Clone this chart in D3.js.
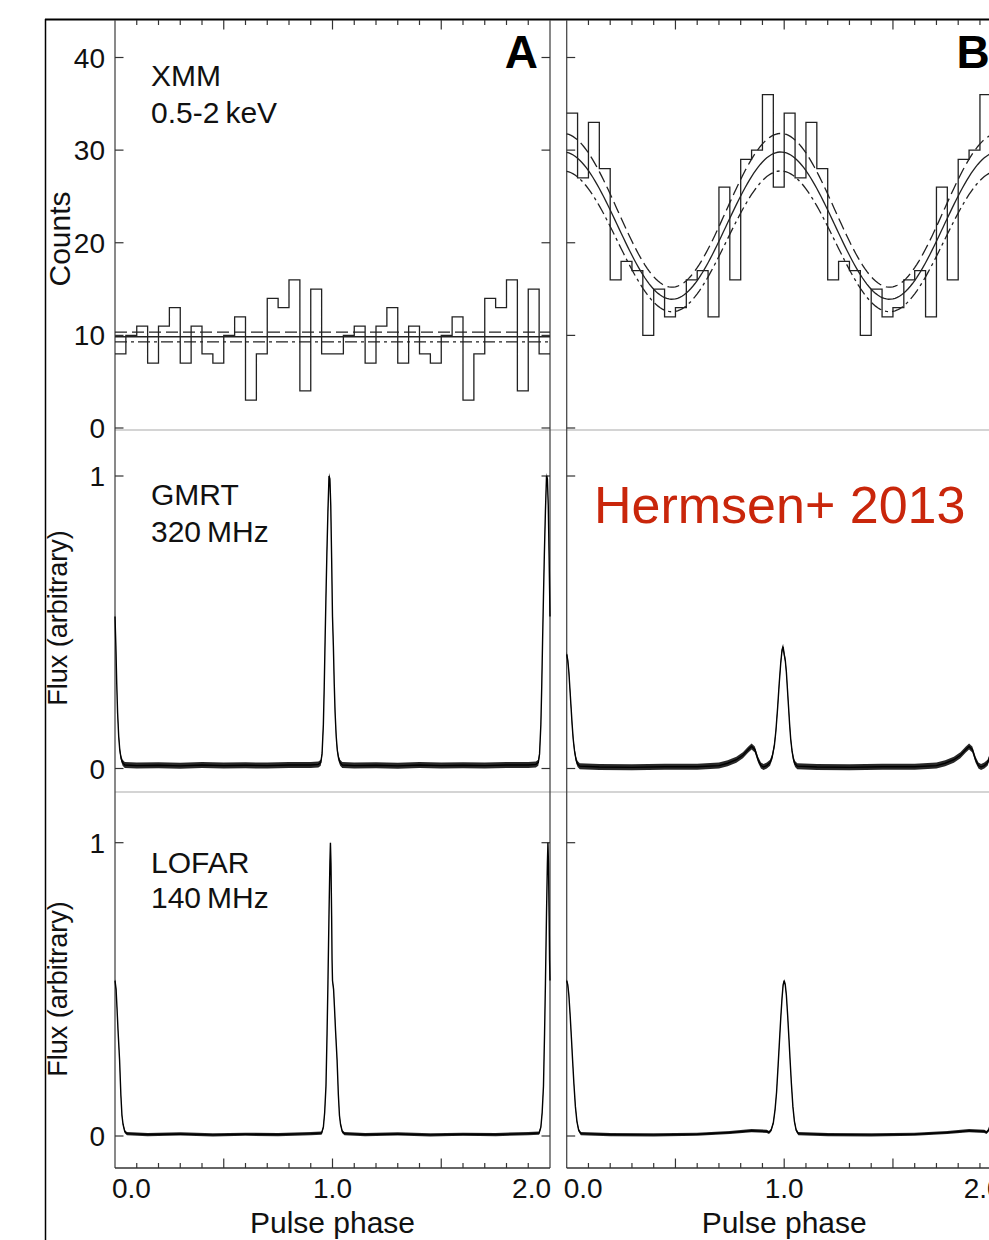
<!DOCTYPE html>
<html>
<head>
<meta charset="utf-8">
<script src="https://cdn.jsdelivr.net/npm/d3@7/dist/d3.min.js"></script>
<style>
  body { margin: 0; background: #fff; }
  svg { display: block; }
  text { font-family: "Liberation Sans", Arial, Helvetica, sans-serif; }
</style>
</head>
<body>
<div id="chart"></div>
<script>
// ---- data ----
// XMM 0.5-2 keV counts, 20 phase bins per cycle (shown twice)
var xmmCountsA = [8, 10, 11, 7, 11, 13, 7, 11, 8, 7, 10, 12, 3, 8, 14, 13, 16, 4, 15, 8];
var xmmCountsB = [34, 27, 33, 28, 16, 18, 17, 10, 15, 12, 13, 16, 17, 12, 26, 16, 29, 30, 36, 26];
// constant fit for A: best, upper, lower
var xmmFitA = [9.85, 10.35, 9.3];
// sinusoid fit for B: [mean, amplitude, phase of maximum] best, upper, lower
var xmmFitB = [[21.85, 7.95, 0.984], [23.5, 8.3, 0.984], [20.15, 7.6, 0.984]];

// radio profiles, one cycle each: [phase, normalised flux]
var gmrtA = [[0.000, 0.52], [0.004, 0.42], [0.008, 0.29], [0.012, 0.19], [0.017, 0.11], [0.022, 0.063],
  [0.028, 0.035], [0.035, 0.02], [0.045, 0.012], [0.10, 0.010], [0.20, 0.011], [0.30, 0.009], [0.40, 0.012],
  [0.50, 0.010], [0.60, 0.011], [0.70, 0.010], [0.80, 0.012], [0.90, 0.012], [0.935, 0.014], [0.946, 0.02],
  [0.952, 0.05], [0.958, 0.15], [0.962, 0.28], [0.966, 0.44], [0.970, 0.59], [0.974, 0.73], [0.979, 0.88],
  [0.984, 1.00], [0.988, 0.99], [0.992, 0.90], [0.996, 0.72], [1.000, 0.52]];
var gmrtB = [[0.000, 0.39], [0.005, 0.37], [0.010, 0.33], [0.015, 0.27], [0.020, 0.21], [0.025, 0.15],
  [0.030, 0.10], [0.036, 0.06], [0.043, 0.03], [0.050, 0.015], [0.060, 0.008], [0.15, 0.005], [0.30, 0.004],
  [0.45, 0.006], [0.60, 0.006], [0.70, 0.010], [0.74, 0.018], [0.78, 0.030], [0.81, 0.045], [0.835, 0.065],
  [0.850, 0.075], [0.865, 0.065], [0.880, 0.030], [0.893, 0.010], [0.905, 0.005], [0.920, 0.010],
  [0.935, 0.020], [0.945, 0.040], [0.955, 0.080], [0.962, 0.13], [0.970, 0.21], [0.977, 0.29],
  [0.984, 0.36], [0.990, 0.405], [0.995, 0.416], [1.000, 0.39]];
var lofarA = [[0.000, 0.53], [0.005, 0.50], [0.009, 0.44], [0.014, 0.36], [0.021, 0.26], [0.027, 0.14],
  [0.032, 0.07], [0.037, 0.04], [0.045, 0.015], [0.055, 0.008], [0.15, 0.005], [0.30, 0.007], [0.45, 0.004],
  [0.60, 0.006], [0.75, 0.005], [0.90, 0.008], [0.950, 0.010], [0.958, 0.03], [0.964, 0.08], [0.970, 0.17],
  [0.975, 0.35], [0.979, 0.52], [0.984, 0.76], [0.988, 0.93], [0.9905, 1.00], [0.993, 0.93], [0.996, 0.75],
  [0.998, 0.60], [1.000, 0.53]];
var lofarB = [[0.000, 0.53], [0.005, 0.515], [0.010, 0.48], [0.016, 0.41], [0.022, 0.33], [0.027, 0.26],
  [0.033, 0.18], [0.040, 0.10], [0.047, 0.05], [0.055, 0.02], [0.065, 0.008], [0.20, 0.005], [0.40, 0.004],
  [0.60, 0.006], [0.75, 0.012], [0.85, 0.018], [0.92, 0.016], [0.930, 0.012], [0.940, 0.02], [0.950, 0.045],
  [0.958, 0.09], [0.965, 0.15], [0.972, 0.24], [0.978, 0.32], [0.984, 0.40], [0.990, 0.47], [0.995, 0.515],
  [1.000, 0.53]];

var countTicks = [0, 10, 20, 30, 40];
var fluxTicks = [0, 1];
var phaseTicks = d3.range(1, 20).map(function (i) { return i / 10; });
var phaseLabels = [0, 1, 2];

// ---- layout ----
var W = 989, H = 1240;
var colW = 435;
var cols = [{x0: 115, tag: "A", counts: xmmCountsA, gmrt: gmrtA, lofar: lofarA},
            {x0: 566.7, tag: "B", counts: xmmCountsB, gmrt: gmrtB, lofar: lofarB}];
var rowTop = 20, sep1 = 430, sep2 = 792, axisY = 1168;

var svg = d3.select("#chart").append("svg").attr("width", W).attr("height", H);

var yX = d3.scaleLinear().domain([0, 40]).range([428, 57.5]);
var yG = d3.scaleLinear().domain([0, 1]).range([768.5, 476]);
var yL = d3.scaleLinear().domain([0, 1]).range([1136, 842.7]);

// outer frame
svg.append("line").attr("x1", 45.5).attr("y1", 19).attr("x2", 45.5).attr("y2", H).attr("stroke", "#000").attr("stroke-width", 1.5);
svg.append("line").attr("x1", 45).attr("y1", 19.5).attr("x2", W).attr("y2", 19.5).attr("stroke", "#000").attr("stroke-width", 2);

// panel separators
[sep1, sep2].forEach(function (yy) {
  svg.append("line").attr("x1", 115).attr("x2", W).attr("y1", yy).attr("y2", yy)
    .attr("stroke", "#c6c6c6").attr("stroke-width", 1.6);
});

function cycles(prof) {
  var pts = [];
  [0, 1].forEach(function (k) {
    prof.forEach(function (d) { pts.push([d[0] + k, d[1]]); });
  });
  return pts;
}

cols.forEach(function (c) {
  var x = d3.scaleLinear().domain([0, 2]).range([c.x0, c.x0 + colW]);
  var g = svg.append("g");
  var xr = c.x0 + colW;

  // axis frame lines
  [c.x0, xr].forEach(function (xx) {
    g.append("line").attr("x1", xx).attr("x2", xx).attr("y1", rowTop).attr("y2", axisY)
      .attr("stroke", "#4a4a4a").attr("stroke-width", 1.3);
  });
  g.append("line").attr("x1", c.x0).attr("x2", xr).attr("y1", axisY).attr("y2", axisY)
    .attr("stroke", "#333").attr("stroke-width", 1.5);

  // phase ticks top and bottom
  phaseTicks.forEach(function (p) {
    var len = (Math.abs(p * 2 - Math.round(p * 2)) < 1e-6) ? 9.5 : 5;
    g.append("line").attr("x1", x(p)).attr("x2", x(p)).attr("y1", rowTop).attr("y2", rowTop + len)
      .attr("stroke", "#333").attr("stroke-width", 1.2);
    g.append("line").attr("x1", x(p)).attr("x2", x(p)).attr("y1", axisY).attr("y2", axisY - len)
      .attr("stroke", "#333").attr("stroke-width", 1.2);
  });

  // value ticks, both sides
  function yTicks(scale, vals) {
    vals.forEach(function (v) {
      g.append("line").attr("x1", c.x0).attr("x2", c.x0 + 8.5).attr("y1", scale(v)).attr("y2", scale(v))
        .attr("stroke", "#333").attr("stroke-width", 1.2);
      g.append("line").attr("x1", xr - 8.5).attr("x2", xr).attr("y1", scale(v)).attr("y2", scale(v))
        .attr("stroke", "#333").attr("stroke-width", 1.2);
    });
  }
  yTicks(yX, countTicks);
  yTicks(yG, fluxTicks);
  yTicks(yL, fluxTicks);

  // phase labels
  phaseLabels.forEach(function (p) {
    var anchor = p === 0 ? "start" : (p === 2 ? "end" : "middle");
    var xx = p === 0 ? x(p) - 3 : (p === 2 ? x(p) + 1 : x(p));
    g.append("text").attr("x", xx).attr("y", 1198).attr("text-anchor", anchor)
      .attr("font-size", 28).attr("fill", "#111").text(d3.format(".1f")(p));
  });
  g.append("text").attr("x", x(1)).attr("y", 1233).attr("text-anchor", "middle")
    .attr("font-size", 30).attr("fill", "#111").text("Pulse phase");

  // XMM histogram
  var hist = [];
  for (var i = 0; i < 40; i++) hist.push([i * 0.05, c.counts[i % 20]]);
  hist.push([2, c.counts[19]]);
  var line = d3.line().x(function (d) { return x(d[0]); });
  g.append("path").datum(hist)
    .attr("d", line.y(function (d) { return yX(d[1]); }).curve(d3.curveStepAfter))
    .attr("fill", "none").attr("stroke", "#222").attr("stroke-width", 1.3);

  // fits
  var dashes = [null, "12,5", "12,4,3,4"];
  if (c.tag === "A") {
    xmmFitA.forEach(function (v, k) {
      g.append("line").attr("x1", x(0)).attr("x2", x(2)).attr("y1", yX(v)).attr("y2", yX(v))
        .attr("stroke", "#222").attr("stroke-width", 1.3).attr("stroke-dasharray", dashes[k]);
    });
  } else {
    var ph = d3.range(0, 2.0001, 0.01);
    xmmFitB.forEach(function (f, k) {
      var pts = ph.map(function (p) { return [p, f[0] + f[1] * Math.cos(2 * Math.PI * (p - f[2]))]; });
      g.append("path").datum(pts)
        .attr("d", d3.line().x(function (d) { return x(d[0]); }).y(function (d) { return yX(d[1]); }).curve(d3.curveLinear))
        .attr("fill", "none").attr("stroke", "#222").attr("stroke-width", 1.3).attr("stroke-dasharray", dashes[k]);
    });
  }

  // radio profiles
  function profile(prof, scale, band) {
    var pts = cycles(prof);
    g.append("path").datum(pts)
      .attr("d", d3.area().x(function (d) { return x(d[0]); })
        .y0(function (d) { return scale(d[1]) + band; })
        .y1(function (d) { return scale(d[1]) - band; }))
      .attr("fill", "#111").attr("opacity", 0.9);
    g.append("path").datum(pts)
      .attr("d", d3.line().x(function (d) { return x(d[0]); }).y(function (d) { return scale(d[1]); }))
      .attr("fill", "none").attr("stroke", "#000").attr("stroke-width", 1.4);
  }
  profile(c.gmrt, yG, 3);
  profile(c.lofar, yL, 1.6);

  // panel letter
  g.append("text").attr("x", xr - 12).attr("y", 68).attr("text-anchor", "end")
    .attr("font-size", 46).attr("font-weight", "bold").attr("fill", "#000").text(c.tag);
});

// value labels (left column only)
var lab = svg.append("g").attr("font-size", 28).attr("fill", "#111").attr("text-anchor", "end");
countTicks.forEach(function (v) {
  lab.append("text").attr("x", 105).attr("y", yX(v)).attr("dy", "0.36em").text(v);
});
[yG, yL].forEach(function (s) {
  fluxTicks.forEach(function (v) {
    lab.append("text").attr("x", 105).attr("y", s(v)).attr("dy", "0.36em").text(v);
  });
});

// axis titles
function vtitle(txt, xx, yy, size) {
  svg.append("text").attr("transform", "translate(" + xx + "," + yy + ") rotate(-90)")
    .attr("text-anchor", "middle").attr("font-size", size).attr("fill", "#111").text(txt);
}
vtitle("Counts", 70, 239, 30);
vtitle("Flux (arbitrary)", 66.5, 618, 27);
vtitle("Flux (arbitrary)", 66.5, 989, 27);

// instrument notes
var notes = [["XMM", 86], ["0.5-2\u2009keV", 123], ["GMRT", 505], ["320\u2009MHz", 541.5],
             ["LOFAR", 873], ["140\u2009MHz", 908]];
notes.forEach(function (n) {
  svg.append("text").attr("x", 151).attr("y", n[1]).attr("font-size", 30).attr("fill", "#111").text(n[0]);
});

svg.append("text").attr("x", 594).attr("y", 523).attr("font-size", 52).attr("fill", "#c9260b")
  .text("Hermsen+ 2013");
</script>
</body>
</html>
